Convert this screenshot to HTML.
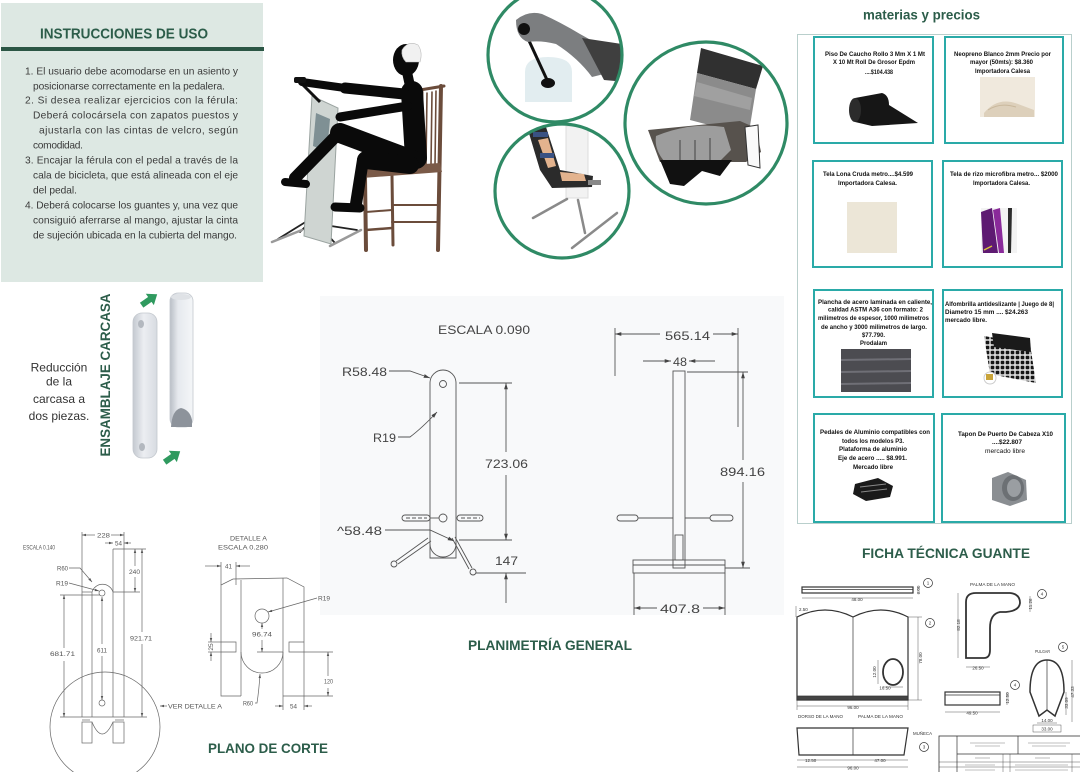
<!DOCTYPE html>
<html><head><meta charset="utf-8">
<style>
html,body{margin:0;padding:0;background:#fff;}
body{width:1080px;height:772px;overflow:hidden;position:relative;}
svg{position:absolute;left:0;top:0;display:block;}
</style></head><body>
<svg width="1080" height="772" viewBox="0 0 1080 772" xmlns="http://www.w3.org/2000/svg" font-family="'Liberation Sans', Arial, sans-serif">
<defs>
<marker id="ar" viewBox="0 0 10 10" refX="10" refY="5" markerWidth="7" markerHeight="7" orient="auto"><path d="M0,2 L10,5 L0,8 z" fill="#444"/></marker>
<marker id="as" viewBox="0 0 10 10" refX="10" refY="5" markerWidth="6" markerHeight="6" orient="auto"><path d="M0,2 L10,5 L0,8 z" fill="#555"/></marker>
<clipPath id="c1"><circle cx="555" cy="55" r="66"/></clipPath>
<clipPath id="c2"><circle cx="562" cy="191" r="66"/></clipPath>
<clipPath id="c3"><circle cx="706" cy="123" r="80"/></clipPath>
<linearGradient id="gp" x1="0" x2="1" y1="0" y2="0"><stop offset="0" stop-color="#c4c9d0"/><stop offset="0.45" stop-color="#eceef2"/><stop offset="1" stop-color="#d7dbe1"/></linearGradient>
<linearGradient id="gp2" x1="0" x2="1" y1="0" y2="0"><stop offset="0" stop-color="#b9bec6"/><stop offset="0.35" stop-color="#e6e9ee"/><stop offset="1" stop-color="#f4f6f8"/></linearGradient>
<pattern id="pd" width="5" height="5" patternUnits="userSpaceOnUse"><rect width="5" height="5" fill="#d8d8d8"/><rect x="0.7" y="0.7" width="3.6" height="3.6" rx="1" fill="#161616"/></pattern>
</defs>

<!-- ===== INSTRUCCIONES PANEL ===== -->
<rect x="1" y="3" width="262" height="279" fill="#dde8e3"/>
<text x="40" y="38.5" font-size="15" font-weight="bold" fill="#2c5d4a" textLength="168" lengthAdjust="spacingAndGlyphs">INSTRUCCIONES DE USO</text>
<rect x="1" y="47" width="263" height="4" fill="#2b5645"/>
<g font-size="10.2" fill="#3a3a3a">
<text x="25" y="74.5" textLength="213" lengthAdjust="spacing">1. El usuario debe acomodarse en un asiento y</text>
<text x="33" y="89.5" textLength="192" lengthAdjust="spacing">posicionarse correctamente en la pedalera.</text>
<text x="25" y="103.5" textLength="213" lengthAdjust="spacing">2. Si desea realizar ejercicios con la férula:</text>
<text x="33" y="118.5" textLength="205" lengthAdjust="spacing">Deberá colocársela con zapatos puestos y</text>
<text x="39" y="133.5" textLength="199" lengthAdjust="spacing">ajustarla con las cintas de velcro, según</text>
<text x="33" y="148.5" textLength="50" lengthAdjust="spacing">comodidad.</text>
<text x="25" y="163.5" textLength="213" lengthAdjust="spacing">3. Encajar la férula con el pedal a través de la</text>
<text x="33" y="178.5" textLength="205" lengthAdjust="spacing">cala de bicicleta, que está alineada con el eje</text>
<text x="33" y="193.5" textLength="44" lengthAdjust="spacing">del pedal.</text>
<text x="25" y="208.5" textLength="213" lengthAdjust="spacing">4. Deberá colocarse los guantes y, una vez que</text>
<text x="33" y="223.5" textLength="205" lengthAdjust="spacing">consiguió aferrarse al mango, ajustar la cinta</text>
<text x="33" y="238.5" textLength="204" lengthAdjust="spacing">de sujeción ubicada en la cubierta del mango.</text>
</g>

<!-- ===== PERSON ON CHAIR ===== -->
<g>
  <g stroke="#222" stroke-width="1.8" stroke-linecap="round">
    <line x1="312" y1="218" x2="278" y2="239"/>
    <line x1="312" y1="218" x2="335" y2="243"/>
    <line x1="318" y1="224" x2="357" y2="230"/>
    <line x1="306" y1="226" x2="300" y2="232"/>
  </g>
  <g stroke="#9a9a9a" stroke-width="2.5" stroke-linecap="round">
    <line x1="272" y1="242" x2="302" y2="230"/>
    <line x1="330" y1="246" x2="361" y2="230"/>
  </g>
  <polygon points="312,96 338,108 331,244 304,236" fill="#cfd5d2" stroke="#9aa3a0" stroke-width="1"/>
  <polygon points="316,113 330,119 327,152 313,146" fill="#7f9094"/>
  <line x1="298" y1="80" x2="320" y2="102" stroke="#111" stroke-width="3"/>
  <g stroke="#6b4c3b" stroke-linecap="round">
    <line x1="441" y1="86" x2="438" y2="250" stroke-width="4"/>
    <line x1="422" y1="92" x2="420" y2="168" stroke-width="3"/>
    <line x1="420" y1="90" x2="444" y2="86" stroke-width="3"/>
    <line x1="427" y1="93" x2="426" y2="165" stroke-width="1.6"/>
    <line x1="432" y1="92" x2="431" y2="165" stroke-width="1.6"/>
    <line x1="436" y1="91" x2="435" y2="165" stroke-width="1.6"/>
    <line x1="365" y1="177" x2="366" y2="250" stroke-width="4"/>
    <line x1="392" y1="176" x2="393" y2="245" stroke-width="3"/>
    <line x1="366" y1="230" x2="392" y2="228" stroke-width="2.5"/>
    <line x1="366" y1="212" x2="392" y2="210" stroke-width="2"/>
    <line x1="392" y1="205" x2="437" y2="205" stroke-width="2"/>
    <line x1="392" y1="222" x2="437" y2="222" stroke-width="2"/>
  </g>
  <polygon points="360,168 440,163 442,172 362,178" fill="#7a5a48"/>
  <g stroke="#0a0a0a" stroke-linecap="round" fill="none">
    <line x1="412" y1="92" x2="416" y2="158" stroke-width="22"/>
    <line x1="407" y1="72" x2="410" y2="86" stroke-width="10"/>
    <line x1="404" y1="94" x2="345" y2="88" stroke-width="11"/>
    <line x1="345" y1="88" x2="302" y2="82" stroke-width="8"/>
    <line x1="408" y1="106" x2="340" y2="117" stroke-width="9"/>
    <line x1="412" y1="160" x2="340" y2="133" stroke-width="20"/>
    <line x1="338" y1="134" x2="295" y2="178" stroke-width="12"/>
    <line x1="285" y1="182" x2="306" y2="184" stroke-width="8"/>
    <line x1="410" y1="165" x2="366" y2="160" stroke-width="18"/>
    <line x1="363" y1="160" x2="356" y2="204" stroke-width="12"/>
    <line x1="335" y1="207" x2="360" y2="208" stroke-width="9"/>
  </g>
  <ellipse cx="406" cy="60" rx="13" ry="16" fill="#0a0a0a"/>
  <path d="M402,50 Q408,40 418,45 Q423,52 420,62 L406,62 Q401,57 402,50 Z" fill="#f1f1f1" stroke="#bbb" stroke-width="0.6"/>
  <rect x="294" y="77" width="12" height="6" rx="2" fill="#111"/>
</g>

<!-- ===== CIRCLE 1 ===== -->
<g clip-path="url(#c1)">
  <path d="M525,102 L525,72 Q525,57 548,57 Q572,57 572,72 L572,102 Z" fill="#e2edf0"/>
  <line x1="525" y1="32" x2="548" y2="82" stroke="#111" stroke-width="3"/>
  <ellipse cx="548" cy="83" rx="7" ry="5" fill="#111"/>
  <path d="M516,20 Q528,10 542,14 Q560,22 580,34 L598,44 L604,74 L592,77 Q578,58 556,44 Q540,40 528,42 Q516,38 516,20 Z" fill="#7c7e80"/>
  <polygon points="582,38 622,44 626,82 604,80" fill="#3f3f3f"/>
  <circle cx="524" cy="29" r="6" fill="#111"/>
</g>
<circle cx="555" cy="55" r="67" fill="none" stroke="#2f8a65" stroke-width="3.2"/>

<!-- ===== CIRCLE 2 ===== -->
<g clip-path="url(#c2)">
  <rect x="566" y="126" width="22" height="72" fill="#f2f2f2" stroke="#dcdcdc"/>
  <polygon points="528,130 546,127 560,170 593,176 592,187 552,188 540,170" fill="#2b2b2b"/>
  <polygon points="538,140 548,138 556,166 548,168" fill="#e3b38e"/>
  <polygon points="560,172 584,174 586,181 562,181" fill="#e3b38e"/>
  <rect x="533" y="132" width="15" height="5" fill="#3a5283"/>
  <rect x="540" y="153" width="14" height="5" fill="#3a5283"/>
  <rect x="588" y="180" width="13" height="5" fill="#888"/>
  <g stroke="#8a8a8a" stroke-width="2.5" stroke-linecap="round">
    <line x1="533" y1="218" x2="567" y2="199"/>
    <line x1="578" y1="200" x2="585" y2="233"/>
    <line x1="572" y1="248" x2="617" y2="213"/>
  </g>
</g>
<circle cx="562" cy="191" r="67" fill="none" stroke="#2f8a65" stroke-width="3.2"/>

<!-- ===== CIRCLE 3 ===== -->
<g clip-path="url(#c3)">
  <polygon points="701,48 763,66 756,89 697,73" fill="#303030"/>
  <polygon points="697,73 756,89 750,126 736,132 690,120" fill="#8b8b8b"/>
  <polygon points="697,82 752,98 750,110 694,96" fill="#a0a0a0"/>
  <polygon points="648,130 740,121 756,128 761,152 746,162 660,162" fill="#57524d"/>
  <path d="M656,136 Q690,122 724,127 L731,150 L719,162 L665,162 Q654,150 656,136 Z" fill="#9d9d9d"/>
  <g stroke="#444" stroke-width="1"><line x1="680" y1="140" x2="680" y2="160"/><line x1="695" y1="140" x2="695" y2="160"/><line x1="710" y1="138" x2="710" y2="160"/></g>
  <polygon points="660,160 732,160 720,176 702,171 684,186 670,184" fill="#111"/>
  <polygon points="745,127 758,125 760,168 748,165" fill="#fafafa" stroke="#333" stroke-width="1"/>
</g>
<circle cx="706" cy="123" r="81" fill="none" stroke="#2f8a65" stroke-width="3.2"/>

<!-- ===== MATERIAS Y PRECIOS ===== -->
<text x="863" y="19.5" font-size="13.5" font-weight="bold" fill="#2c5d4a" textLength="117" lengthAdjust="spacingAndGlyphs">materias y precios</text>
<rect x="797.5" y="34.5" width="274" height="489" fill="none" stroke="#b9cfcc" stroke-width="1"/>
<g fill="#fff" stroke="#2aaaa8" stroke-width="2">
  <rect x="814" y="37" width="119" height="106"/>
  <rect x="945" y="37" width="118" height="106"/>
  <rect x="813" y="161" width="119" height="106"/>
  <rect x="943" y="161" width="119" height="106"/>
  <rect x="814" y="290" width="119" height="107"/>
  <rect x="943" y="290" width="119" height="107"/>
  <rect x="814" y="414" width="120" height="108"/>
  <rect x="942" y="414" width="123" height="108"/>
</g>
<g font-size="6.3" font-weight="bold" fill="#111">
  <text x="825" y="56.2" textLength="100" lengthAdjust="spacingAndGlyphs">Piso De Caucho Rollo 3 Mm X 1 Mt</text>
  <text x="833" y="64.2" textLength="82" lengthAdjust="spacingAndGlyphs">X 10 Mt Roll De Grosor Epdm</text>
  <text x="865" y="74.2" textLength="28" lengthAdjust="spacingAndGlyphs">....$104.438</text>
  <text x="954" y="56.2" textLength="97" lengthAdjust="spacingAndGlyphs">Neopreno  Blanco 2mm  Precio por</text>
  <text x="970" y="64.2" textLength="63" lengthAdjust="spacingAndGlyphs">mayor (50mts): $8.360</text>
  <text x="975" y="73.2" textLength="55" lengthAdjust="spacingAndGlyphs">Importadora Calesa</text>
  <text x="823" y="176.2" textLength="90" lengthAdjust="spacingAndGlyphs">Tela Lona Cruda metro....$4.599</text>
  <text x="838" y="185.2" textLength="59" lengthAdjust="spacingAndGlyphs">Importadora Calesa.</text>
  <text x="950" y="176.2" textLength="108" lengthAdjust="spacingAndGlyphs">Tela de rizo microfibra metro... $2000</text>
  <text x="973" y="185.2" textLength="57" lengthAdjust="spacingAndGlyphs">Importadora Calesa.</text>
  <text x="818" y="304.2" textLength="114" lengthAdjust="spacingAndGlyphs">Plancha de acero laminada en caliente,</text>
  <text x="828" y="311.7" textLength="95" lengthAdjust="spacingAndGlyphs">calidad ASTM A36 con formato: 2</text>
  <text x="818" y="320.2" textLength="111" lengthAdjust="spacingAndGlyphs">milimetros de espesor, 1000 milimetros</text>
  <text x="821" y="329.2" textLength="106" lengthAdjust="spacingAndGlyphs">de ancho y 3000 milimetros de largo.</text>
  <text x="862" y="337.2" textLength="23" lengthAdjust="spacingAndGlyphs">$77.790.</text>
  <text x="860" y="345.2" textLength="27" lengthAdjust="spacingAndGlyphs">Prodalam</text>
  <text x="945" y="306.2" textLength="109" lengthAdjust="spacingAndGlyphs">Alfombrilla antideslizante | Juego de 8|</text>
  <text x="945" y="314.2" textLength="83" lengthAdjust="spacingAndGlyphs">Diametro 15 mm  ....  $24.263</text>
  <text x="945" y="322.2" textLength="42" lengthAdjust="spacingAndGlyphs">mercado libre.</text>
  <text x="820" y="434.2" textLength="110" lengthAdjust="spacingAndGlyphs">Pedales de Aluminio  compatibles con</text>
  <text x="842" y="443.2" textLength="62" lengthAdjust="spacingAndGlyphs">todos los modelos P3.</text>
  <text x="839" y="451.2" textLength="68" lengthAdjust="spacingAndGlyphs">Plataforma de aluminio</text>
  <text x="838" y="460.2" textLength="69" lengthAdjust="spacingAndGlyphs">Eje de acero ..... $8.991.</text>
  <text x="853" y="469.2" textLength="40" lengthAdjust="spacingAndGlyphs">Mercado libre</text>
  <text x="958" y="436.2" textLength="95" lengthAdjust="spacingAndGlyphs">Tapon De Puerto De Cabeza X10</text>
  <text x="992" y="444.2" textLength="30" lengthAdjust="spacingAndGlyphs">....$22.807</text>
  <text x="985" y="453.2" font-weight="normal" textLength="40" lengthAdjust="spacingAndGlyphs">mercado libre</text>
</g>
<path d="M855,98 L882,93 Q889,95 889,105 L918,123 L872,126 L855,122 Z" fill="#161616"/>
<ellipse cx="855" cy="110" rx="6" ry="12" fill="#2c2c2c"/>
<rect x="980" y="77" width="55" height="40" fill="#f0e9dd"/>
<path d="M984,113 Q998,96 1018,104 L1034,110 L1034,117 L984,117 Z" fill="#ddd0bb"/>
<path d="M988,110 Q1000,102 1016,107" stroke="#c9b89c" fill="none" stroke-width="1"/>
<rect x="847" y="202" width="50" height="51" fill="#ece6d7"/>
<rect x="981" y="208" width="36" height="45" fill="#f3f3f3"/>
<polygon points="981,212 992,208 998,253 983,253" fill="#5e1a72"/>
<polygon points="993,210 1000,208 1004,253 999,253" fill="#8a2a9a"/>
<polygon points="1008,208 1012,208 1011,253 1008,253" fill="#2c2c2c"/>
<line x1="984" y1="250" x2="992" y2="246" stroke="#d8c23a" stroke-width="1.5"/>
<rect x="841" y="349" width="70" height="43" fill="#4c4c51"/>
<g stroke="#6f6f76" stroke-width="2"><line x1="841" y1="360" x2="911" y2="359"/><line x1="841" y1="372" x2="911" y2="371"/><line x1="841" y1="384" x2="911" y2="383"/></g>
<polygon points="984,336 1030,344 1036,383 990,374" fill="url(#pd)"/>
<polygon points="992,333 1030,338 1031,352 994,347" fill="#1a1a1a"/>
<circle cx="990" cy="378" r="6" fill="#fff" stroke="#ccc"/>
<rect x="986" y="374" width="7" height="6" fill="#c9a43a"/>
<polygon points="855,484 878,478 893,486 890,497 866,501 853,494" fill="#1a1a1a"/>
<g stroke="#888" stroke-width="1"><line x1="860" y1="487" x2="886" y2="484"/><line x1="861" y1="492" x2="887" y2="489"/></g>
<polygon points="992,478 1008,472 1026,480 1027,500 1010,506 992,500" fill="#8a8e92"/>
<ellipse cx="1013" cy="488" rx="11" ry="13" fill="#6c7074"/>
<ellipse cx="1014" cy="488" rx="7" ry="9" fill="#9a9ea2"/>

<!-- ===== ENSAMBLAJE CARCASA ===== -->
<g font-size="12" fill="#333" text-anchor="middle">
  <text x="59" y="371.5">Reducción</text>
  <text x="59" y="385.5">de la</text>
  <text x="59" y="403">carcasa a</text>
  <text x="59" y="420">dos piezas.</text>
</g>
<text x="105" y="380" transform="rotate(-90 105 375)" text-anchor="middle" font-size="14" font-weight="bold" fill="#2c5d4a" textLength="163" lengthAdjust="spacingAndGlyphs">ENSAMBLAJE CARCASA</text>
<rect x="133" y="313" width="24" height="145" rx="9" fill="url(#gp)" stroke="#c3c8ce" stroke-width="0.8"/>
<ellipse cx="141" cy="324" rx="3" ry="4" fill="#b3b8bf"/>
<ellipse cx="142" cy="447" rx="3" ry="4" fill="#b3b8bf"/>
<rect x="170" y="293" width="23" height="134" rx="8" fill="url(#gp2)" stroke="#c3c8ce" stroke-width="0.8"/>
<ellipse cx="181" cy="297" rx="10" ry="3" fill="#dfe2e6"/>
<path d="M171,427 Q172,410 181,408 Q190,410 192,420 L192,427 Z" fill="#8d939b"/>
<g transform="translate(149,300) rotate(-35)"><polygon points="-9,-3 1,-3 1,-7 10,0 1,7 1,3 -9,3" fill="#2f9a5f"/></g>
<g transform="translate(172,457) rotate(-35)"><polygon points="-9,-3 1,-3 1,-7 10,0 1,7 1,3 -9,3" fill="#2f9a5f"/></g>

<!-- ===== PLANIMETRIA GENERAL ===== -->
<rect x="320" y="296" width="464" height="319" fill="#f8f9fa"/>
<g stroke="#555" stroke-width="0.9" fill="none">
  <path d="M430,558 L430,383 A13,13 0 0 1 456,383 L456,558 Z"/>
  <path d="M430,544 A13,13 0 0 0 456,544"/>
  <circle cx="443" cy="384" r="3.5"/>
  <circle cx="443" cy="518" r="4"/>
  <rect x="402" y="515" width="28" height="6" rx="3"/>
  <line x1="406" y1="518" x2="427" y2="518" stroke-dasharray="4 2"/>
  <line x1="430" y1="518" x2="439" y2="518"/>
  <rect x="457" y="515" width="26" height="6" rx="3"/>
  <line x1="461" y1="518" x2="480" y2="518" stroke-dasharray="4 2"/>
  <line x1="428" y1="538" x2="396" y2="561"/>
  <line x1="431" y1="541" x2="398" y2="564"/>
  <circle cx="394" cy="564" r="3"/>
  <line x1="452" y1="538" x2="469" y2="569"/>
  <line x1="455" y1="537" x2="472" y2="568"/>
  <circle cx="473" cy="572" r="3"/>
  <line x1="459" y1="383" x2="512" y2="383"/>
  <line x1="459" y1="540" x2="512" y2="540"/>
  <line x1="506" y1="452" x2="506" y2="383" marker-end="url(#ar)"/>
  <line x1="506" y1="475" x2="506" y2="540" marker-end="url(#ar)"/>
  <line x1="476" y1="573" x2="526" y2="573"/>
  <line x1="506" y1="603" x2="506" y2="573" marker-end="url(#ar)"/>
  <path d="M389,371 L410,371 L430,378" marker-end="url(#ar)"/>
  <path d="M398,437 L410,437 Q422,428 437,412" marker-end="url(#ar)"/>
  <path d="M385,530 L430,530 L454,541" marker-end="url(#ar)"/>
  <rect x="673" y="371" width="12" height="197"/>
  <rect x="675" y="535" width="8" height="25"/>
  <rect x="633" y="560" width="92" height="13"/>
  <line x1="633" y1="565" x2="725" y2="565"/>
  <rect x="617" y="515" width="21" height="6" rx="3"/>
  <line x1="638" y1="518" x2="673" y2="518"/>
  <rect x="710" y="515" width="23" height="6" rx="3"/>
  <line x1="685" y1="518" x2="710" y2="518"/>
  <line x1="615" y1="328" x2="615" y2="376"/>
  <line x1="738" y1="328" x2="738" y2="427"/>
  <line x1="660" y1="334" x2="615" y2="334" marker-end="url(#ar)"/>
  <line x1="713" y1="334" x2="738" y2="334" marker-end="url(#ar)"/>
  <line x1="643" y1="361" x2="671" y2="361" marker-end="url(#ar)"/>
  <line x1="715" y1="361" x2="689" y2="361" marker-end="url(#ar)"/>
  <line x1="687" y1="372" x2="748" y2="372"/>
  <line x1="725" y1="568" x2="750" y2="568"/>
  <line x1="743" y1="460" x2="743" y2="372" marker-end="url(#ar)"/>
  <line x1="743" y1="482" x2="743" y2="568" marker-end="url(#ar)"/>
  <line x1="634" y1="573" x2="634" y2="615"/>
  <line x1="725" y1="573" x2="725" y2="615"/>
  <line x1="657" y1="608" x2="634" y2="608" marker-end="url(#ar)"/>
  <line x1="703" y1="608" x2="725" y2="608" marker-end="url(#ar)"/>
</g>
<g font-size="12" fill="#444">
  <text x="438" y="334" textLength="92" lengthAdjust="spacingAndGlyphs">ESCALA 0.090</text>
  <text x="342" y="376" textLength="45" lengthAdjust="spacingAndGlyphs">R58.48</text>
  <text x="373" y="442" textLength="23" lengthAdjust="spacingAndGlyphs">R19</text>
  <text x="485" y="468" textLength="43" lengthAdjust="spacingAndGlyphs">723.06</text>
  <text x="337" y="535" textLength="45" lengthAdjust="spacingAndGlyphs">^58.48</text>
  <text x="495" y="565" textLength="23" lengthAdjust="spacingAndGlyphs">147</text>
  <text x="665" y="340" textLength="45" lengthAdjust="spacingAndGlyphs">565.14</text>
  <text x="673" y="366" textLength="14" lengthAdjust="spacingAndGlyphs">48</text>
  <text x="720" y="476" textLength="45" lengthAdjust="spacingAndGlyphs">894.16</text>
  <text x="660" y="613" textLength="40" lengthAdjust="spacingAndGlyphs">407.8</text>
</g>
<text x="468" y="650" font-size="14" font-weight="bold" fill="#2c5d4a" textLength="164" lengthAdjust="spacingAndGlyphs">PLANIMETRÍA GENERAL</text>

<!-- ===== PLANO DE CORTE ===== -->
<g stroke="#666" stroke-width="0.7" fill="none">
  <line x1="82" y1="532" x2="82" y2="717"/>
  <line x1="92" y1="592" x2="92" y2="717"/>
  <line x1="113" y1="549" x2="113" y2="717"/>
  <line x1="124" y1="532" x2="124" y2="717"/>
  <line x1="113" y1="549" x2="146" y2="549"/>
  <line x1="82" y1="592" x2="92" y2="592"/>
  <line x1="113" y1="592" x2="140" y2="592"/>
  <path d="M92,592 A11,11 0 0 1 113,592"/>
  <circle cx="102" cy="593" r="3"/>
  <line x1="60" y1="595" x2="100" y2="595"/>
  <line x1="60" y1="717" x2="147" y2="717"/>
  <line x1="64" y1="648" x2="64" y2="595" marker-end="url(#as)"/>
  <line x1="64" y1="661" x2="64" y2="717" marker-end="url(#as)"/>
  <line x1="102" y1="644" x2="102" y2="597" marker-end="url(#as)"/>
  <line x1="102" y1="656" x2="102" y2="700" marker-end="url(#as)"/>
  <line x1="142" y1="632" x2="142" y2="549" marker-end="url(#as)"/>
  <line x1="142" y1="644" x2="142" y2="717" marker-end="url(#as)"/>
  <line x1="135" y1="566" x2="135" y2="549" marker-end="url(#as)"/>
  <line x1="135" y1="577" x2="135" y2="592" marker-end="url(#as)"/>
  <line x1="95" y1="535" x2="82" y2="535" marker-end="url(#as)"/>
  <line x1="111" y1="535" x2="124" y2="535" marker-end="url(#as)"/>
  <line x1="105" y1="543" x2="113" y2="543" marker-end="url(#as)"/>
  <line x1="131" y1="543" x2="124" y2="543" marker-end="url(#as)"/>
  <path d="M69,568 L80,568 L92,582" marker-end="url(#as)"/>
  <path d="M69,583 L99,591" marker-end="url(#as)"/>
  <circle cx="102" cy="703" r="3"/>
  <rect x="82" y="722" width="10" height="21"/>
  <rect x="113" y="722" width="11" height="21"/>
  <line x1="82" y1="720" x2="90" y2="720"/>
  <line x1="115" y1="720" x2="124" y2="720"/>
  <path d="M92,722 Q102,746 113,722"/>
  <circle cx="105" cy="727" r="55"/>
  <line x1="167" y1="706" x2="160" y2="706" marker-end="url(#as)"/>
  <path d="M241,696 L221,696 L221,585 L233,579 L287,578 L304,587 L304,696 L283,696"/>
  <line x1="241" y1="580" x2="241" y2="696"/>
  <line x1="283" y1="578" x2="283" y2="696"/>
  <path d="M221,642 L236,642 L236,652 L221,652"/>
  <path d="M304,642 L289,642 L289,652 L304,652"/>
  <path d="M241,652 A21,21 0 0 0 283,652"/>
  <line x1="257" y1="652" x2="283" y2="652"/>
  <circle cx="262" cy="616" r="7"/>
  <line x1="221" y1="562" x2="221" y2="585"/>
  <line x1="236" y1="562" x2="236" y2="585"/>
  <line x1="205" y1="566" x2="221" y2="566" marker-end="url(#as)"/>
  <line x1="250" y1="566" x2="236" y2="566" marker-end="url(#as)"/>
  <line x1="208" y1="642" x2="221" y2="642"/>
  <line x1="208" y1="652" x2="221" y2="652"/>
  <line x1="211" y1="633" x2="211" y2="642" marker-end="url(#as)"/>
  <line x1="211" y1="661" x2="211" y2="652" marker-end="url(#as)"/>
  <line x1="262" y1="640" x2="262" y2="652" marker-end="url(#as)"/>
  <line x1="262" y1="629" x2="262" y2="623" marker-end="url(#as)"/>
  <path d="M317,598 L268,612" marker-end="url(#as)"/>
  <line x1="304" y1="652" x2="333" y2="652"/>
  <line x1="304" y1="696" x2="333" y2="696"/>
  <line x1="328" y1="676" x2="328" y2="652" marker-end="url(#as)"/>
  <line x1="328" y1="688" x2="328" y2="696" marker-end="url(#as)"/>
  <path d="M255,703 L257,703 Q259,690 260,674" marker-end="url(#as)"/>
  <line x1="283" y1="696" x2="283" y2="710"/>
  <line x1="304" y1="696" x2="304" y2="710"/>
  <line x1="275" y1="706" x2="283" y2="706" marker-end="url(#as)"/>
  <line x1="312" y1="706" x2="304" y2="706" marker-end="url(#as)"/>
</g>
<g font-size="6.5" fill="#555">
  <text x="23" y="549.5" textLength="32" lengthAdjust="spacingAndGlyphs">ESCALA 0.140</text>
  <text x="97" y="537.5" textLength="13" lengthAdjust="spacingAndGlyphs">228</text>
  <text x="115" y="545.5" textLength="7" lengthAdjust="spacingAndGlyphs">54</text>
  <text x="129" y="574" textLength="11" lengthAdjust="spacingAndGlyphs">240</text>
  <text x="130" y="640.5" textLength="22" lengthAdjust="spacingAndGlyphs">921.71</text>
  <text x="50" y="656" textLength="25" lengthAdjust="spacingAndGlyphs">681.71</text>
  <text x="97" y="652.5" textLength="10" lengthAdjust="spacingAndGlyphs">611</text>
  <text x="57" y="570.5" textLength="11" lengthAdjust="spacingAndGlyphs">R60</text>
  <text x="56" y="585.5" textLength="12" lengthAdjust="spacingAndGlyphs">R19</text>
  <text x="168" y="708.5" textLength="54" lengthAdjust="spacingAndGlyphs">VER DETALLE A</text>
  <text x="230" y="540.5" textLength="37" lengthAdjust="spacingAndGlyphs">DETALLE A</text>
  <text x="218" y="549.5" textLength="50" lengthAdjust="spacingAndGlyphs">ESCALA 0.280</text>
  <text x="225" y="568.5" textLength="7" lengthAdjust="spacingAndGlyphs">41</text>
  <text x="318" y="600.5" textLength="12" lengthAdjust="spacingAndGlyphs">R19</text>
  <text x="252" y="636.5" textLength="20" lengthAdjust="spacingAndGlyphs">96.74</text>
  <text x="213" y="647" transform="rotate(-90 213 647)" text-anchor="middle">25</text>
  <text x="324" y="683.5" textLength="9" lengthAdjust="spacingAndGlyphs">120</text>
  <text x="243" y="705.5" textLength="10" lengthAdjust="spacingAndGlyphs">R60</text>
  <text x="290" y="708.5" textLength="7" lengthAdjust="spacingAndGlyphs">54</text>
</g>
<text x="208" y="753" font-size="14" font-weight="bold" fill="#2c5d4a" textLength="120" lengthAdjust="spacingAndGlyphs">PLANO DE CORTE</text>

<!-- ===== FICHA TECNICA GUANTE ===== -->
<text x="862" y="558" font-size="14" font-weight="bold" fill="#2c5d4a" textLength="168" lengthAdjust="spacingAndGlyphs">FICHA TÉCNICA GUANTE</text>
<g stroke="#333" fill="none" stroke-width="0.7">
  <rect x="802" y="587" width="111" height="6" stroke-width="1.2"/>
  <line x1="802" y1="589.5" x2="913" y2="589.5"/>
  <line x1="802" y1="598" x2="913" y2="598" stroke-width="0.4"/>
  <line x1="918" y1="587" x2="918" y2="593" stroke-width="0.4"/>
  <circle cx="928" cy="583" r="4.5"/>
  <path d="M797,617 Q825,603 853,617 Q881,603 908,617 L908,700 L797,700 Z" stroke-width="1.2"/>
  <line x1="853" y1="617" x2="853" y2="700"/>
  <rect x="797" y="696" width="111" height="4" fill="#444"/>
  <ellipse cx="893" cy="672" rx="10" ry="13" stroke-width="1.8"/>
  <line x1="797" y1="700" x2="797" y2="710" stroke-width="0.4"/>
  <line x1="908" y1="700" x2="908" y2="710" stroke-width="0.4"/>
  <line x1="797" y1="706" x2="908" y2="706" stroke-width="0.4"/>
  <line x1="918" y1="617" x2="918" y2="700" stroke-width="0.4"/>
  <line x1="908" y1="617" x2="922" y2="617" stroke-width="0.4"/>
  <line x1="908" y1="700" x2="922" y2="700" stroke-width="0.4"/>
  <line x1="796" y1="606" x2="796" y2="617" stroke-width="0.4"/>
  <line x1="878" y1="660" x2="878" y2="684" stroke-width="0.4"/>
  <line x1="883" y1="687" x2="903" y2="687" stroke-width="0.4"/>
  <circle cx="930" cy="623" r="4.5"/>
  <path d="M797,728 L908,728 L904,755 L799,755 Z" stroke-width="1.2"/>
  <line x1="853" y1="728" x2="853" y2="755"/>
  <line x1="797" y1="760" x2="853" y2="760" stroke-width="0.4"/>
  <line x1="853" y1="760" x2="908" y2="760" stroke-width="0.4"/>
  <line x1="797" y1="767" x2="908" y2="767" stroke-width="0.4"/>
  <circle cx="924" cy="747" r="4.5"/>
  <path d="M966,658 L966,602 Q966,593 976,593 L1010,593 Q1020,594 1020,603 Q1019,611 1006,612 L1000,612 Q990,614 990,628 L990,650 Q990,658 984,658 Z" stroke-width="1.8"/>
  <line x1="958" y1="593" x2="958" y2="658" stroke-width="0.4"/>
  <line x1="966" y1="667" x2="990" y2="667" stroke-width="0.4"/>
  <line x1="1030" y1="596" x2="1030" y2="612" stroke-width="0.4"/>
  <circle cx="1042" cy="594" r="4.5"/>
  <rect x="945" y="692" width="55" height="13" stroke-width="1.2"/>
  <line x1="945" y1="695" x2="1000" y2="695"/>
  <line x1="945" y1="712" x2="1000" y2="712" stroke-width="0.4"/>
  <line x1="1007" y1="692" x2="1007" y2="705" stroke-width="0.4"/>
  <circle cx="1015" cy="685" r="4.5"/>
  <path d="M1030,692 Q1030,660 1047,660 Q1064,660 1064,692 L1055,716 L1047,710 L1039,716 Z" stroke-width="1.5"/>
  <line x1="1047" y1="660" x2="1047" y2="710"/>
  <line x1="1072" y1="660" x2="1072" y2="722" stroke-width="0.4"/>
  <line x1="1066" y1="692" x2="1066" y2="715" stroke-width="0.4"/>
  <line x1="1037" y1="723" x2="1057" y2="723" stroke-width="0.4"/>
  <rect x="1033" y="725" width="28" height="7" stroke-width="0.4"/>
  <circle cx="1063" cy="647" r="4.5"/>
  <rect x="939" y="736" width="145" height="40" stroke-width="0.8"/>
  <line x1="957" y1="736" x2="957" y2="772"/>
  <line x1="1018" y1="736" x2="1018" y2="754"/>
  <line x1="957" y1="754" x2="1080" y2="754"/>
  <line x1="939" y1="762" x2="1080" y2="762" stroke-width="0.4"/>
  <line x1="939" y1="767" x2="1080" y2="767" stroke-width="0.4"/>
  <line x1="1003" y1="754" x2="1003" y2="772" stroke-width="0.4"/>
  <line x1="1010" y1="754" x2="1010" y2="772" stroke-width="0.4"/>
  <line x1="1072" y1="754" x2="1072" y2="772" stroke-width="0.4"/>
</g>
<g stroke="#aaa" stroke-width="0.8">
  <line x1="970" y1="743" x2="1005" y2="743"/><line x1="975" y1="746" x2="1000" y2="746"/>
  <line x1="1028" y1="743" x2="1070" y2="743"/><line x1="1032" y1="746" x2="1066" y2="746"/>
  <line x1="965" y1="765" x2="995" y2="765"/><line x1="965" y1="770" x2="995" y2="770"/>
  <line x1="1015" y1="765" x2="1068" y2="765"/><line x1="1015" y1="770" x2="1068" y2="770"/>
  <line x1="975" y1="758" x2="990" y2="758"/><line x1="1035" y1="758" x2="1050" y2="758"/>
</g>
<g font-size="4.5" fill="#333">
  <text x="928" y="584.6" text-anchor="middle">1</text>
  <text x="930" y="624.6" text-anchor="middle">2</text>
  <text x="924" y="748.6" text-anchor="middle">3</text>
  <text x="1042" y="595.6" text-anchor="middle">4</text>
  <text x="1015" y="686.6" text-anchor="middle">4</text>
  <text x="1063" y="648.6" text-anchor="middle">5</text>
  <text x="857" y="601" text-anchor="middle">48.00</text>
  <text x="799" y="611">2.50</text>
  <text x="853" y="709" text-anchor="middle">96.00</text>
  <text x="885" y="689.5" text-anchor="middle">16.50</text>
  <text x="798" y="718" textLength="45" lengthAdjust="spacingAndGlyphs">DORSO DE LA MANO</text>
  <text x="858" y="718" textLength="45" lengthAdjust="spacingAndGlyphs">PALMA DE LA MANO</text>
  <text x="913" y="735" textLength="19" lengthAdjust="spacingAndGlyphs">MUÑECA</text>
  <text x="805" y="762">12.50</text>
  <text x="880" y="762" text-anchor="middle">47.00</text>
  <text x="853" y="769.5" text-anchor="middle">96.00</text>
  <text x="970" y="586" textLength="45" lengthAdjust="spacingAndGlyphs">PALMA DE LA MANO</text>
  <text x="978" y="669.5" text-anchor="middle">26.50</text>
  <text x="972" y="714.5" text-anchor="middle">49.50</text>
  <text x="1035" y="653" textLength="15" lengthAdjust="spacingAndGlyphs">PULGAR</text>
  <text x="1047" y="722" text-anchor="middle">14.00</text>
  <text x="1047" y="730.5" text-anchor="middle">33.00</text>
  <text x="920" y="590" transform="rotate(-90 920 590)" text-anchor="middle">6.00</text>
  <text x="922" y="658" transform="rotate(-90 922 658)" text-anchor="middle">78.00</text>
  <text x="876" y="672" transform="rotate(-90 876 672)" text-anchor="middle">12.00</text>
  <text x="960" y="625" transform="rotate(-90 960 625)" text-anchor="middle">82.18</text>
  <text x="1032" y="604" transform="rotate(-90 1032 604)" text-anchor="middle">11.26</text>
  <text x="1009" y="698" transform="rotate(-90 1009 698)" text-anchor="middle">12.50</text>
  <text x="1074" y="692" transform="rotate(-90 1074 692)" text-anchor="middle">47.33</text>
  <text x="1068" y="703" transform="rotate(-90 1068 703)" text-anchor="middle">33.09</text>
</g>
</svg>
</body></html>
